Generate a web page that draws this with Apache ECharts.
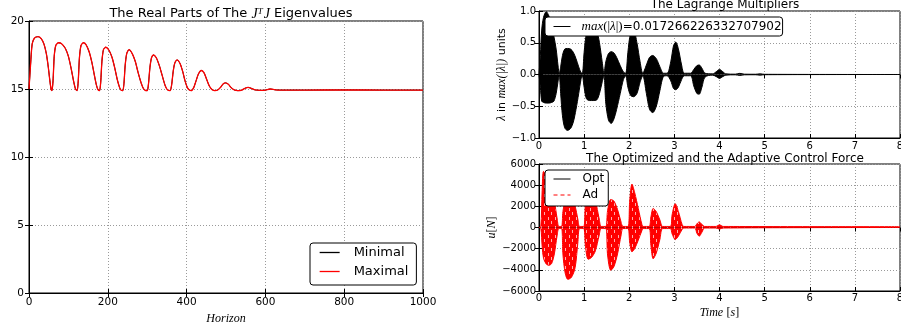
<!DOCTYPE html>
<html><head><meta charset="utf-8">
<script src="https://cdn.jsdelivr.net/npm/echarts@6/dist/echarts.min.js"></script>
<style>html,body{margin:0;padding:0;background:#fff}#c{width:901px;height:331px}</style>
</head><body><div id="c"></div>
<script>
// ---------- Left panel: real parts of J^T J eigenvalues ----------
const horizonTicks = [0, 200, 400, 600, 800, 1000];
const realTicks = [0, 5, 10, 15, 20];
// Minimal lies underneath the Maximal curve in the reference (not visible)
const maxHorizon = [0,4,8,14,23,31,38,44,49,53,56,58,
  61,64,68,75,82,92,100,107,113,118,122,
  125,128,132,138,145,153,160,166,171,175,179,
  182,185,189,195,203,211,218,224,230,234,238,
  241,244,248,254,262,270,277,284,290,295,300,
  303,307,311,316,323,331,338,345,351,358,
  362,366,370,376,383,390,396,402,407,412,
  418,424,430,437,444,451,458,465,472,
  480,487,493,499,506,513,521,530,
  540,548,556,564,574,588,
  600,612,625,640,
  700,800,900,1000];
const maxReal = [15.0,16.8,18.3,18.75,18.85,18.7,18.3,17.6,16.6,15.6,15.0,14.88,
  15.6,17.4,18.2,18.4,18.35,18.0,17.4,16.5,15.6,15.0,14.88,
  15.6,17.3,18.2,18.4,18.25,17.7,16.9,16.0,15.3,14.95,14.88,
  15.5,17.0,17.9,18.07,17.85,17.3,16.5,15.7,15.1,14.9,14.88,
  15.4,16.7,17.6,17.9,17.6,17.0,16.2,15.5,15.05,14.9,14.88,
  15.3,16.6,17.3,17.5,17.3,16.7,16.0,15.3,14.95,14.88,
  15.3,16.3,16.9,17.14,16.9,16.3,15.6,15.1,14.92,14.88,
  15.1,15.6,16.1,16.36,16.2,15.7,15.2,14.95,14.88,
  14.95,15.15,15.38,15.45,15.35,15.1,14.93,14.88,
  14.92,15.05,15.12,15.05,14.93,14.9,
  14.92,15.0,14.94,14.92,
  14.92,14.93,14.92,14.92];
const minHorizon = maxHorizon;
const minReal = maxReal;

// ---------- Top right: Lagrange multipliers (envelope of the oscillation) ----------
const timeTicks = [0,1,2,3,4,5,6,7,8];
const lambdaTicks = [-1.0,-0.5,0.0,0.5,1.0];
const lagTime = [0.00,0.03,0.06,0.10,0.16,0.22,0.28,0.33,0.38,0.42,0.45,
  0.48,0.52,0.57,0.63,0.70,0.76,0.82,0.88,0.93,0.96,
  1.00,1.05,1.12,1.20,1.28,1.34,1.40,1.44,
  1.48,1.54,1.60,1.66,1.72,1.80,1.87,1.92,
  1.97,2.03,2.10,2.17,2.24,2.30,
  2.38,2.45,2.52,2.60,2.68,2.76,2.84,
  2.92,2.98,3.03,3.09,3.16,3.22,3.36,
  3.43,3.50,3.55,3.61,3.68,3.85,
  3.92,4.00,4.08,4.14,4.35,4.45,4.55,4.80,4.90,5.00,8.00];
const lagUpper = [0,0.3,0.7,0.9,0.99,0.92,0.75,0.6,0.4,0.15,0.02,
  0.12,0.3,0.4,0.41,0.4,0.35,0.25,0.12,0.03,0.02,
  0.35,0.65,0.8,0.82,0.7,0.5,0.2,0.02,
  0.2,0.33,0.36,0.34,0.27,0.14,0.04,0.02,
  0.35,0.65,0.68,0.5,0.2,0.02,
  0.15,0.27,0.3,0.25,0.12,0.02,0.02,
  0.2,0.45,0.51,0.4,0.15,0.02,0.02,
  0.08,0.14,0.15,0.1,0.02,0.01,
  0.04,0.08,0.04,0.01,0.005,0.018,0.005,0.004,0.01,0.003,0.0];
const lagLower = [0,-0.2,-0.42,-0.44,-0.45,-0.45,-0.44,-0.42,-0.3,-0.12,-0.02,
  -0.3,-0.65,-0.84,-0.88,-0.85,-0.75,-0.55,-0.3,-0.08,-0.02,
  -0.2,-0.38,-0.41,-0.41,-0.4,-0.3,-0.12,-0.02,
  -0.45,-0.72,-0.77,-0.7,-0.55,-0.3,-0.08,-0.02,
  -0.2,-0.33,-0.35,-0.3,-0.12,-0.02,
  -0.3,-0.55,-0.6,-0.5,-0.25,-0.03,-0.02,
  -0.1,-0.22,-0.24,-0.2,-0.08,-0.02,-0.02,
  -0.18,-0.3,-0.31,-0.2,-0.04,-0.01,
  -0.03,-0.06,-0.03,-0.01,-0.005,-0.015,-0.005,-0.004,-0.01,-0.003,0.0];

// ---------- Bottom right: control force envelopes ----------
const forceTicks = [-6000,-4000,-2000,0,2000,4000,6000];
const forceTime = [0.00,0.04,0.07,0.10,0.16,0.22,0.28,0.34,0.40,0.44,
  0.50,0.53,0.58,0.64,0.72,0.80,0.86,0.90,
  0.99,1.03,1.09,1.17,1.25,1.33,1.38,
  1.48,1.52,1.59,1.66,1.74,1.82,1.86,
  1.97,2.01,2.06,2.12,2.20,2.28,2.31,
  2.44,2.48,2.53,2.60,2.68,2.74,
  2.91,2.95,3.02,3.09,3.17,3.21,
  3.45,3.50,3.55,3.61,3.67,
  3.92,4.00,4.08,8.00];
const forceUpper = [0,50,3500,5300,5000,4300,3500,2500,900,100,
  100,1500,2500,2800,2700,2000,800,100,
  100,2200,3200,3100,2500,900,100,
  100,1600,2650,2500,1700,500,100,
  100,2500,4100,3300,1800,300,100,
  100,1000,1800,1500,700,100,
  100,1200,2250,1500,300,100,
  100,350,530,300,100,
  100,250,100,80];
const forceLower = [0,-50,-1800,-2900,-3450,-3570,-3400,-2500,-800,-100,
  -100,-2500,-4300,-4900,-4700,-3800,-1500,-100,
  -100,-1800,-3000,-2800,-2200,-800,-100,
  -100,-2600,-4050,-3700,-2500,-700,-100,
  -100,-1400,-2300,-2000,-1200,-300,-100,
  -100,-1700,-2950,-2400,-1100,-100,
  -100,-600,-1140,-800,-200,-50,
  -50,-550,-820,-450,-50,
  -50,-150,-50,0];
const optTime = [0, 8];
const optForce = [0, 0];

const SANS = 'DejaVu Sans', SERIF = 'Liberation Serif';
const pairs = (xs, ys) => xs.map((x, i) => [x, ys[i]]);
const minusFmt = v => String(v).replace('-', '\u2212');

function makePattern() {
  const c = document.createElement('canvas');
  c.width = 7; c.height = 9;
  const g = c.getContext('2d');
  g.fillStyle = '#ff0000'; g.fillRect(0, 0, 7, 9);
  g.fillStyle = 'rgba(255,190,190,0.9)';
  g.fillRect(2, 1, 1, 3); g.fillRect(5, 5, 1, 3);
  return c;
}

const gridStyle = {show: true, borderColor: '#000', borderWidth: 1, backgroundColor: 'transparent', outerBoundsMode: 'none', containLabel: false};
const splitDotted = {show: true, lineStyle: {color: '#9a9a9a', type: [1, 2], width: 1}};
const tickIn = {show: true, inside: true, length: 4, lineStyle: {color: '#000'}};

function xAx(gi, min, max, interval, fs, margin, name, gap, nameStyle) {
  return {type: 'value', gridIndex: gi, min, max, interval, position: 'bottom',
    axisLine: {show: true, onZero: false, lineStyle: {color: '#000'}},
    axisTick: tickIn, splitLine: splitDotted,
    axisLabel: {color: '#000', fontFamily: SANS, fontSize: fs, margin, formatter: v => String(v)},
    name, nameLocation: 'middle', nameGap: gap, nameTextStyle: nameStyle};
}
function yAx(gi, min, max, interval, fs, margin, fmt, name, gap, nameStyle) {
  return {type: 'value', gridIndex: gi, min, max, interval, position: 'left',
    axisLine: {show: true, onZero: false, lineStyle: {color: '#000'}},
    axisTick: tickIn, splitLine: splitDotted,
    axisLabel: {color: '#000', fontFamily: SANS, fontSize: fs, margin, formatter: fmt},
    name, nameLocation: 'middle', nameGap: gap, nameRotate: 90, nameTextStyle: nameStyle};
}
function mirror(ax, pos) {
  return Object.assign({}, ax, {position: pos, name: '', axisLabel: {show: false}, splitLine: {show: false}, axisLine: {show: false}});
}

const xs = [
  xAx(0, 0, 1000, 200, 10.5, 4, 'Horizon', 20, {color: '#000', fontFamily: SERIF, fontStyle: 'italic', fontSize: 12}),
  xAx(1, 0, 8, 1, 10, 3, '', 0, {}),
  xAx(2, 0, 8, 1, 10, 2, '{i|Time} {r|[}{i|s}{r|]}', 16, {color: '#000', fontSize: 12,
    rich: {i: {fontFamily: SERIF, fontStyle: 'italic', fontSize: 12, color: '#000'}, r: {fontFamily: SERIF, fontSize: 12, color: '#000'}}})
];
const ys = [
  yAx(0, 0, 20, 5, 10.5, 5, v => String(v), '', 0, {}),
  yAx(1, -1, 1, 0.5, 10, 3, v => v.toFixed(1).replace('-', '\u2212'),
    '{g|\u03bb}{n| in }{i|max}{g|(|}{g|\u03bb}{g||)}{n| units}', 31, {color: '#000',
    rich: {g: {fontFamily: SERIF, fontStyle: 'italic', fontSize: 12, color: '#000'},
           i: {fontFamily: SERIF, fontStyle: 'italic', fontSize: 12, color: '#000'},
           n: {fontFamily: SANS, fontSize: 11, color: '#000'}}}),
  yAx(2, -6000, 6000, 2000, 10, 3, minusFmt, '{i|u}{r|[}{i|N}{r|]}', 39, {color: '#000',
    rich: {i: {fontFamily: SERIF, fontStyle: 'italic', fontSize: 12, color: '#000'}, r: {fontFamily: SERIF, fontSize: 12, color: '#000'}}})
];
const xAxis = xs.concat(xs.map(a => mirror(a, 'top')));
const yAxis = ys.concat(ys.map(a => mirror(a, 'right')));

const titleRich = {
  n: {fontFamily: SANS, fontSize: 13, fontWeight: 'normal', color: '#000'},
  i: {fontFamily: SERIF, fontStyle: 'italic', fontWeight: 'normal', fontSize: 14, color: '#000'},
  s: {fontFamily: SERIF, fontStyle: 'italic', fontWeight: 'normal', fontSize: 9, color: '#000', verticalAlign: 'top', padding: [0, 1, 0, 0]}
};
const noSymbol = {opacity: 0, borderWidth: 0};

const option = {
  animation: false,
  backgroundColor: '#fff',
  title: [
    {text: '{n|The Real Parts of The }{i|J}{s|T}{i|J}{n| Eigenvalues}', left: 226, top: 2, textAlign: 'center',
      textStyle: {fontWeight: 'normal', rich: titleRich}},
    {text: 'The Lagrange Multipliers', left: 720, top: -6, textAlign: 'center',
      textStyle: {fontFamily: SANS, fontSize: 12, fontWeight: 'normal', color: '#000'}},
    {text: 'The Optimized and the Adaptive Control Force', left: 720, top: 148, textAlign: 'center',
      textStyle: {fontFamily: SANS, fontSize: 12, fontWeight: 'normal', color: '#000'}}
  ],
  grid: [
    Object.assign({left: 29, top: 21, width: 394, height: 272}, gridStyle),
    Object.assign({left: 539, top: 11, width: 361, height: 127}, gridStyle),
    Object.assign({left: 539, top: 164, width: 361, height: 127}, gridStyle)
  ],
  xAxis, yAxis,
  legend: [
    {data: [{name: 'Minimal', lineStyle: {color: '#000000', width: 1.3, opacity: 1}},
            {name: 'Maximal', lineStyle: {color: '#ff0000', width: 1.3, opacity: 1}}],
      orient: 'vertical', left: 310, top: 243,
      padding: [3, 8, 7, 9], itemWidth: 20, itemHeight: 14, itemGap: 6, itemStyle: noSymbol,
      backgroundColor: '#fff', borderColor: '#000', borderWidth: 1, borderRadius: 3,
      textStyle: {fontFamily: SANS, fontSize: 13, color: '#000', padding: [0, 0, 0, 9]}},
    {data: [{name: 'lambda', lineStyle: {color: '#000', width: 1}}], orient: 'vertical', left: 545, top: 17,
      padding: [3, 1, 3, 8], itemWidth: 17, itemHeight: 14, itemStyle: noSymbol,
      backgroundColor: '#fff', borderColor: '#000', borderWidth: 1, borderRadius: 3,
      formatter: () => '{i|max}{g|(|}{i|\u03bb}{g||)}{t|=0.017266226332707902}',
      textStyle: {color: '#000', padding: [0, 0, 0, 6], rich: {
        i: {fontFamily: SERIF, fontStyle: 'italic', fontSize: 13, color: '#000'},
        g: {fontFamily: SERIF, fontSize: 13, color: '#000'},
        t: {fontFamily: SANS, fontSize: 12, color: '#000'}}}},
    {data: [{name: 'Opt', lineStyle: {color: '#000', width: 1, opacity: 1}}, {name: 'Ad', lineStyle: {type: [4, 3], color: '#ff0000', width: 1}}],
      orient: 'vertical', left: 545, top: 170,
      padding: [3, 4, 5, 8], itemWidth: 17, itemHeight: 12, itemGap: 4, itemStyle: noSymbol,
      backgroundColor: '#fff', borderColor: '#000', borderWidth: 1, borderRadius: 3,
      textStyle: {fontFamily: SANS, fontSize: 12, color: '#000', padding: [0, 0, 0, 7]}}
  ],
  series: [
    {name: 'Minimal', type: 'line', xAxisIndex: 0, yAxisIndex: 0, symbol: 'none', smooth: 0.25,
      data: pairs(minHorizon, minReal), lineStyle: {color: '#000', width: 1}, itemStyle: {color: '#000'}},
    {name: 'Maximal', type: 'line', xAxisIndex: 0, yAxisIndex: 0, symbol: 'none', smooth: 0.25,
      data: pairs(maxHorizon, maxReal), lineStyle: {color: '#ff0000', width: 1.3}, itemStyle: {color: '#ff0000'}},
    {name: 'lambda', type: 'line', xAxisIndex: 1, yAxisIndex: 1, symbol: 'none', smooth: 0.3,
      data: pairs(lagTime, lagUpper), lineStyle: {color: '#000', width: 1}, itemStyle: {color: '#000'},
      areaStyle: {color: '#000', opacity: 1}},
    {name: 'lambda', type: 'line', xAxisIndex: 1, yAxisIndex: 1, symbol: 'none', smooth: 0.3,
      data: pairs(lagTime, lagLower), lineStyle: {color: '#000', width: 1}, itemStyle: {color: '#000'},
      areaStyle: {color: '#000', opacity: 1}},
    {name: 'Opt', type: 'line', xAxisIndex: 2, yAxisIndex: 2, symbol: 'none', z: 1,
      data: pairs(optTime, optForce), lineStyle: {color: '#000', width: 1}, itemStyle: {color: '#000'}},
    {name: 'Ad', type: 'line', xAxisIndex: 2, yAxisIndex: 2, symbol: 'none', smooth: 0.3, z: 2,
      data: pairs(forceTime, forceUpper), lineStyle: {color: '#ff0000', width: 1}, itemStyle: {color: '#ff0000'},
      areaStyle: {color: {image: makePattern(), repeat: 'repeat'}, opacity: 1}},
    {name: 'Ad', type: 'line', xAxisIndex: 2, yAxisIndex: 2, symbol: 'none', smooth: 0.3, z: 2,
      data: pairs(forceTime, forceLower), lineStyle: {color: '#ff0000', width: 1}, itemStyle: {color: '#ff0000'},
      areaStyle: {color: {image: makePattern(), repeat: 'repeat'}, opacity: 1}}
  ]
};
const chart = echarts.init(document.getElementById('c'));
chart.setOption(option);
</script>
</body></html>
